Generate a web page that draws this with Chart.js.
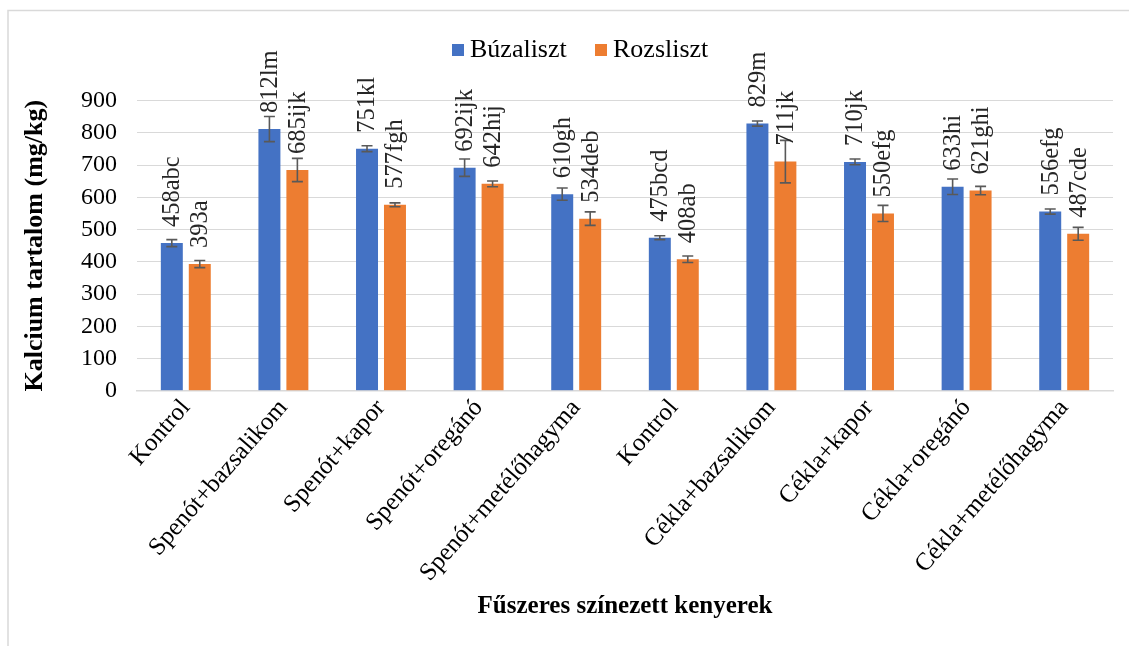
<!DOCTYPE html>
<html>
<head>
<meta charset="utf-8">
<script src="https://cdn.jsdelivr.net/npm/chart.js@4/dist/chart.umd.min.js"></script>
<style>
html,body{margin:0;padding:0;background:#fff;}
#wrap{position:relative;width:1129px;height:646px;}
</style>
</head>
<body>
<div id="wrap"><canvas id="c" width="1129" height="646"></canvas></div>
<script>
const categories = ['Kontrol','Spenót+bazsalikom','Spenót+kapor','Spenót+oregánó','Spenót+metélőhagyma','Kontrol','Cékla+bazsalikom','Cékla+kapor','Cékla+oregánó','Cékla+metélőhagyma'];
const buzaValues = [458, 812, 751, 692, 610, 475, 829, 710, 633, 556];
const rozsValues = [393, 685, 577, 642, 534, 408, 711, 550, 621, 487];
const buzaErrors = [11, 39, 9, 27, 19, 6, 8, 9, 24, 8];
const rozsErrors = [11, 36, 6, 9, 21, 10, 66, 25, 13, 20];
const buzaLetters = ['abc','lm','kl','ijk','gh','bcd','m','jk','hi','efg'];
const rozsLetters = ['a','ijk','fgh','hij','deb','ab','jk','efg','ghi','cde'];
const yTicks = [0,100,200,300,400,500,600,700,800,900];
const seriesNames = ['Búzaliszt','Rozsliszt'];
const seriesColors = ['#4472C4','#ED7D31'];

const FONT = "'Liberation Serif', 'Times New Roman', serif";

const errorAndLabels = {
  id: 'errorAndLabels',
  afterDatasetsDraw(chart) {
    const ctx = chart.ctx;
    const y = chart.scales.y;
    chart.data.datasets.forEach((ds, di) => {
      const meta = chart.getDatasetMeta(di);
      meta.data.forEach((bar, i) => {
        const v = ds.data[i];
        const e = ds.errors[i];
        const yt = y.getPixelForValue(v + e);
        const yb = y.getPixelForValue(v - e);
        ctx.save();
        ctx.strokeStyle = '#595959';
        ctx.lineWidth = 1.6;
        ctx.beginPath();
        ctx.moveTo(bar.x, yt); ctx.lineTo(bar.x, yb);
        ctx.moveTo(bar.x - 5.5, yt); ctx.lineTo(bar.x + 5.5, yt);
        ctx.moveTo(bar.x - 5.5, yb); ctx.lineTo(bar.x + 5.5, yb);
        ctx.stroke();
        ctx.restore();
      });
    });
    chart.data.datasets.forEach((ds, di) => {
      const meta = chart.getDatasetMeta(di);
      meta.data.forEach((bar, i) => {
        ctx.save();
        ctx.translate(bar.x + 1, bar.y - 16);
        ctx.rotate(-Math.PI / 2);
        ctx.font = '24.5px ' + FONT;
        ctx.fillStyle = '#262626';
        ctx.textAlign = 'left';
        ctx.textBaseline = 'middle';
        ctx.fillText(String(ds.data[i]) + ds.letters[i], 0, 0);
        ctx.restore();
      });
    });
  },
  afterDraw(chart) {
    const ctx = chart.ctx;
    ctx.save();
    ctx.strokeStyle = '#d9d9d9';
    ctx.lineWidth = 1.5;
    ctx.beginPath();
    ctx.moveTo(8, 646); ctx.lineTo(8, 10.5); ctx.lineTo(1129, 10.5);
    ctx.stroke();
    const pos = [{box: 452, text: 470}, {box: 595, text: 613}];
    chart.data.datasets.forEach((ds, di) => {
      ctx.fillStyle = ds.backgroundColor;
      ctx.fillRect(pos[di].box, 44, 12, 12);
      ctx.fillStyle = '#000';
      ctx.font = '26px ' + FONT;
      ctx.textAlign = 'left';
      ctx.textBaseline = 'middle';
      ctx.fillText(ds.label, pos[di].text, 50);
    });
    ctx.restore();
  }
};

new Chart(document.getElementById('c'), {
  type: 'bar',
  data: {
    labels: categories,
    datasets: [
      {label: seriesNames[0], data: buzaValues, errors: buzaErrors, letters: buzaLetters, backgroundColor: seriesColors[0], categoryPercentage: 0.573, barPercentage: 0.786},
      {label: seriesNames[1], data: rozsValues, errors: rozsErrors, letters: rozsLetters, backgroundColor: seriesColors[1], categoryPercentage: 0.573, barPercentage: 0.786}
    ]
  },
  options: {
    responsive: false,
    animation: false,
    events: [],
    layout: {padding: {top: 100.7, right: 16, left: 0, bottom: 0}},
    plugins: {legend: {display: false}, tooltip: {enabled: false}},
    scales: {
      x: {
        grid: {display: false, drawTicks: false},
        border: {display: true, color: '#d9d9d9', width: 1.5},
        ticks: {
          autoSkip: false, minRotation: 49, maxRotation: 49, padding: 3,
          font: {family: FONT, size: 25}, color: '#000'
        },
        title: {display: true, text: 'Fűszeres színezett kenyerek', font: {family: FONT, size: 25, weight: 'bold'}, color: '#000', padding: {top: 0, bottom: 24}},
        afterFit(scale) { scale.height = 646 - 390.7; }
      },
      y: {
        min: 0, max: 900,
        afterBuildTicks(scale) { scale.ticks = yTicks.map(v => ({value: v})); },
        grid: {color: '#d9d9d9', lineWidth: 1, drawTicks: false},
        border: {display: false},
        ticks: {padding: 20, font: {family: FONT, size: 24}, color: '#000'},
        title: {display: true, text: 'Kalcium tartalom (mg/kg)', font: {family: FONT, size: 26, weight: 'bold'}, color: '#000', padding: {top: 20, bottom: 0}},
        afterFit(scale) { scale.width = 137; }
      }
    }
  },
  plugins: [errorAndLabels]
});
</script>
</body>
</html>
